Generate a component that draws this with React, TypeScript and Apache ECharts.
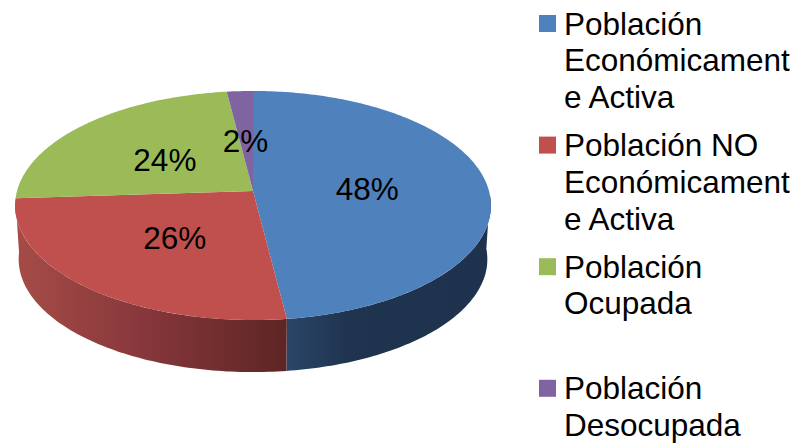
import React, { useEffect, useRef } from "react";
import * as echarts from "echarts";

const categories = [
  "Población\nEconómicament\ne Activa",
  "Población NO\nEconómicament\ne Activa",
  "Población\nOcupada",
  "Población\nDesocupada",
];
const values = [48, 26, 24, 2];
const topColors = ["#4f81bd", "#c0504d", "#9bbb59", "#8064a2"];
const wallStops = [
  ["#2b4668", "#1f344f", "#1e324d"],
  ["#a64c47", "#85363a", "#5e2524"],
  ["#5d7035", "#5d7035", "#5d7035"],
  ["#4d3c61", "#4d3c61", "#4d3c61"],
];

const total = values.reduce((a, b) => a + b, 0);
const startDeg = (i: number) => (values.slice(0, i).reduce((a, b) => a + b, 0) / total) * 360;

// perspective view of the pie disc
const CX = 253, CY = 191, RX = 236, RY = 112.7, K = 0.1266;
const DEPTH = 54, BOTTOM_SCALE = 0.985;
const VISIBLE_FROM = 92, VISIBLE_TO = 266;
const FONT = "31.5px 'Liberation Sans', Arial, sans-serif";
const labelNudge = [[-2.5, 2], [5, -1], [-4, 2], [-1, 0]];

function rim(deg: number, bottom = false): number[] {
  const t = (deg * Math.PI) / 180;
  const u = Math.sin(t), v = Math.cos(t), w = 1 + K * v;
  const s = bottom ? BOTTOM_SCALE : 1;
  return [CX + (s * RX * u) / w, CY + (bottom ? DEPTH : 0) - (s * RY * v) / w];
}
function arc(from: number, to: number, bottom = false): number[][] {
  const pts: number[][] = [];
  const n = Math.max(1, Math.ceil(to - from));
  for (let i = 0; i <= n; i++) pts.push(rim(from + ((to - from) * i) / n, bottom));
  return pts;
}

const renderWall = (params: any, api: any) => {
  const i = params.dataIndex;
  const a = Math.max(startDeg(i), VISIBLE_FROM);
  const b = Math.min(startDeg(i) + (api.value(0) / total) * 360, VISIBLE_TO);
  if (b <= a) return { type: "group", children: [] };
  const points = [...arc(a, b), ...arc(a, b, true).reverse()];
  const s = wallStops[i];
  return {
    type: "polygon",
    shape: { points },
    style: {
      fill: {
        type: "linear", x: 0, y: 0, x2: 1, y2: 0,
        colorStops: i === 0
          ? [{ offset: 0, color: s[0] }, { offset: 0.3, color: s[1] }, { offset: 1, color: s[2] }]
          : [{ offset: 0, color: s[0] }, { offset: 0.5, color: s[1] }, { offset: 1, color: s[2] }],
      },
    },
  };
};

const renderTop = (params: any, api: any) => {
  const i = params.dataIndex;
  const v = api.value(0);
  const a = startDeg(i), b = a + (v / total) * 360;
  return {
    type: "polygon",
    shape: { points: [[CX, CY], ...arc(a, b)] },
    style: { fill: topColors[i] },
  };
};

const renderLabel = (params: any, api: any) => {
  const i = params.dataIndex;
  const v = api.value(0);
  const a = startDeg(i), b = a + (v / total) * 360;
  const p = rim((a + b) / 2);
  return {
    type: "text",
    x: CX + (p[0] - CX) * 0.5 + labelNudge[i][0],
    y: CY + (p[1] - CY) * 0.5 + labelNudge[i][1],
    style: {
      text: `${v}%`,
      font: FONT,
      fill: "#000",
      align: "center",
      verticalAlign: "middle",
    },
  };
};

const LEGEND_LEFT = 539, LEGEND_TOP = 15, LEGEND_STEP = 121.6, SWATCH = 17, LINE = 36.7;

export default function App() {
  const ref = useRef<HTMLDivElement>(null);
  useEffect(() => {
    document.body.style.margin = "0";
    const chart = echarts.init(ref.current!, null, { renderer: "svg" });
    const graphic: any[] = [];
    categories.forEach((name, i) => {
      const top = LEGEND_TOP + i * LEGEND_STEP;
      graphic.push({
        type: "rect",
        shape: { x: LEGEND_LEFT, y: top, width: SWATCH, height: SWATCH },
        style: { fill: topColors[i] },
      });
      name.split("\n").forEach((line, j) => {
        graphic.push({
          type: "text",
          x: LEGEND_LEFT + 25,
          y: top + 8.5 + j * LINE,
          style: {
            text: line,
            font: FONT,
            fill: "#000",
            align: "left",
            verticalAlign: "middle",
          },
        });
      });
    });
    chart.setOption({
      animation: false,
      backgroundColor: "#fff",
      series: [
        { type: "custom", coordinateSystem: "none", renderItem: renderWall, data: values, z: 1, silent: true },
        { type: "custom", coordinateSystem: "none", renderItem: renderTop, data: values, z: 2, silent: true },
        { type: "custom", coordinateSystem: "none", renderItem: renderLabel, data: values, z: 3, silent: true },
      ],
      graphic,
    });
    return () => chart.dispose();
  }, []);
  return <div ref={ref} style={{ width: 797, height: 443 }} />;
}
